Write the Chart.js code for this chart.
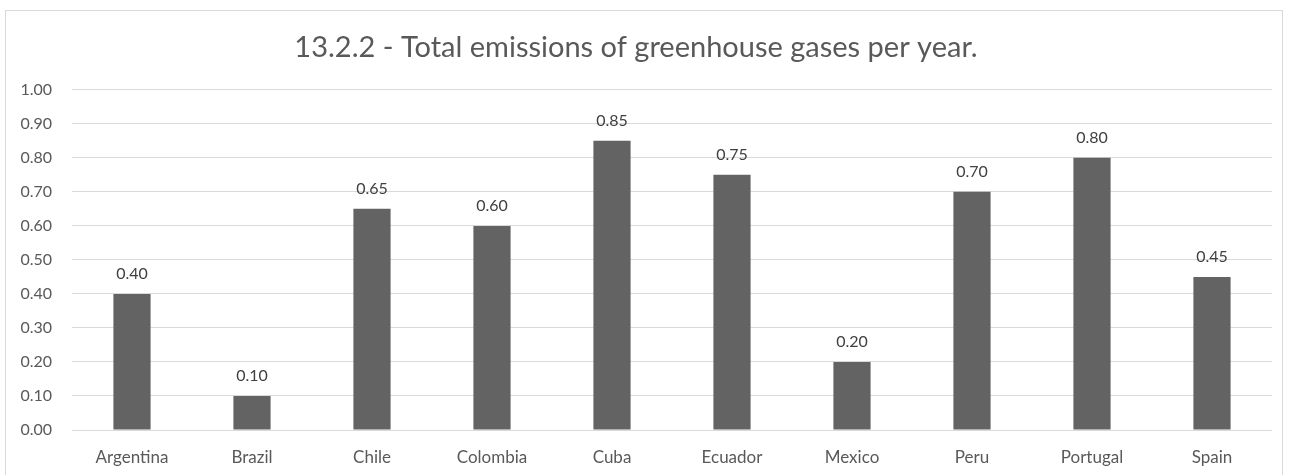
<!DOCTYPE html>
<html>
<head>
<meta charset="utf-8">
<script src="https://cdn.jsdelivr.net/npm/chart.js"></script>
<style>
  body { margin: 0; background: #fff; overflow: hidden; }
  #wrap { position: relative; width: 1296px; height: 475px; overflow: hidden; }
  #frame { position: absolute; left: 5px; top: 10px; width: 1278px; height: 480px; border: 1px solid #d9d9d9; box-sizing: border-box; }
  canvas { position: absolute; left: 0; top: 0; }
</style>
</head>
<body>
<div id="wrap">
  <div id="frame"></div>
  <canvas id="chart" width="1296" height="475"></canvas>
</div>
<script>
// chart data
const countries = ['Argentina', 'Brazil', 'Chile', 'Colombia', 'Cuba', 'Ecuador', 'Mexico', 'Peru', 'Portugal', 'Spain'];
const emissions = [0.40, 0.10, 0.65, 0.60, 0.85, 0.75, 0.20, 0.70, 0.80, 0.45];
const yTicks = [0, 0.1, 0.2, 0.3, 0.4, 0.5, 0.6, 0.7, 0.8, 0.9, 1.0];

const FONT = 'Lato, "Open Sans", sans-serif';

// simple value labels above each bar
const barLabels = {
    id: 'barLabels',
    afterDatasetsDraw(chart) {
        const ctx = chart.ctx;
        const meta = chart.getDatasetMeta(0);
        ctx.save();
        ctx.font = '16px ' + FONT;
        ctx.fillStyle = '#404040';
        ctx.textAlign = 'center';
        ctx.textBaseline = 'middle';
        meta.data.forEach((bar, i) => {
            ctx.fillText(emissions[i].toFixed(2), bar.x, bar.y - 20);
        });
        ctx.restore();
    }
};

const ctx = document.getElementById('chart').getContext('2d');
new Chart(ctx, {
    type: 'bar',
    data: {
        labels: countries,
        datasets: [{
            data: emissions,
            backgroundColor: '#636363',
            barPercentage: 0.31,
            categoryPercentage: 1.0
        }]
    },
    options: {
        responsive: false,
        animation: false,
        layout: { padding: { left: 0, right: 24, top: 0, bottom: 0 } },
        plugins: {
            legend: { display: false },
            tooltip: { enabled: false },
            title: {
                display: true,
                text: '13.2.2 - Total emissions of greenhouse gases per year.',
                color: '#595959',
                font: { family: FONT, size: 29, weight: 'normal' },
                padding: { top: 30, bottom: 25 }
            }
        },
        scales: {
            x: {
                grid: { display: false, drawTicks: false },
                border: { display: false },
                ticks: { color: '#595959', font: { family: FONT, size: 17 }, padding: 17 },
                afterFit(scale) { scale.height = 45; }
            },
            y: {
                min: 0,
                max: 1,
                grid: { color: '#d9d9d9', lineWidth: 1, drawTicks: false },
                border: { display: false },
                afterBuildTicks(scale) { scale.ticks = yTicks.map(v => ({ value: v })); },
                ticks: {
                    color: '#595959',
                    font: { family: FONT, size: 16 },
                    padding: 20,
                    callback: v => v.toFixed(2)
                },
                afterFit(scale) { scale.width = 72; }
            }
        }
    },
    plugins: [barLabels]
});
</script>
</body>
</html>
